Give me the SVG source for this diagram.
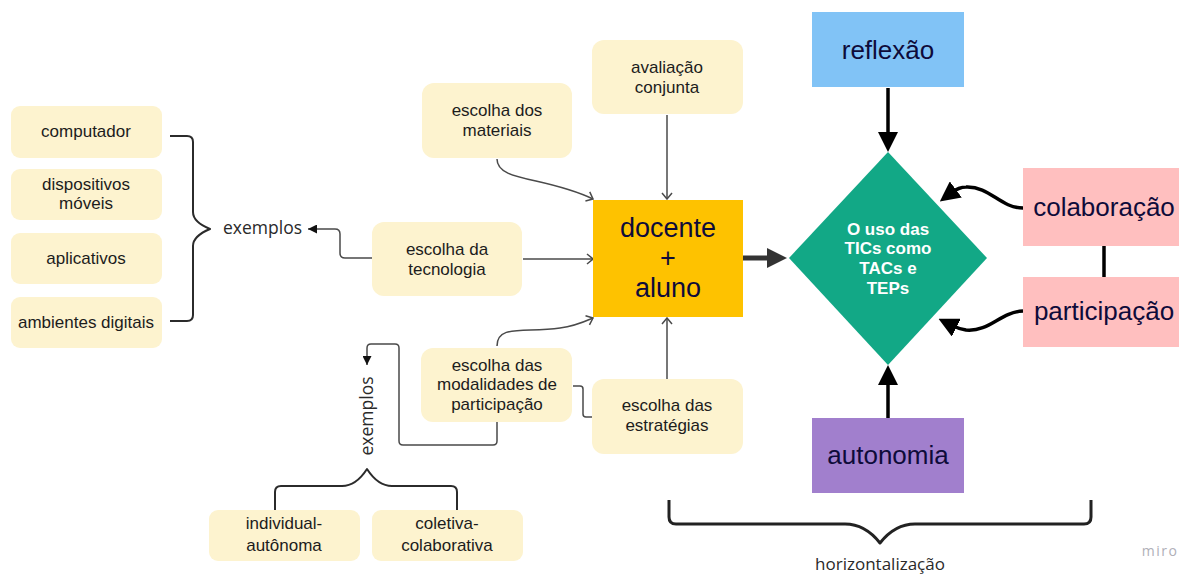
<svg xmlns="http://www.w3.org/2000/svg" width="1179" height="574" viewBox="0 0 1179 574">
  <style>
    .note { fill: #fdf3cf; }
    .nt { font-family: "Liberation Sans", Arial, sans-serif; font-size: 17px; fill: #1c1c1c; text-anchor: middle; }
    .big { font-family: "Liberation Sans", Arial, sans-serif; font-size: 26px; fill: #0e0b3a; text-anchor: middle; }
    .huge { font-size: 27px; }
    .dia { font-family: "Liberation Sans", Arial, sans-serif; font-size: 17px; font-weight: bold; fill: #ffffff; text-anchor: middle; }
    .lbl { font-family: "Open Sans", "Noto Sans", sans-serif; font-size: 17.5px; fill: #2a2a2a; }
    .thin { fill: none; stroke: #4a4a4a; stroke-width: 1.5; }
    .brace { fill: none; stroke: #2b2b2b; stroke-width: 2; stroke-linejoin: round; }
    .heavy { fill: none; stroke: #000; stroke-width: 3.5; }
  </style>
  <defs>
    <marker id="open" viewBox="0 0 8 12" refX="7" refY="6" markerWidth="8" markerHeight="12" markerUnits="userSpaceOnUse" orient="auto">
      <path d="M1,1 L7,6 L1,11" fill="none" stroke="#4a4a4a" stroke-width="1.5"/>
    </marker>
    <marker id="small" viewBox="0 0 9 9" refX="9" refY="4.5" markerWidth="9" markerHeight="9" markerUnits="userSpaceOnUse" orient="auto">
      <path d="M0,0 L9,4.5 L0,9 Z" fill="#111"/>
    </marker>
    <marker id="head" viewBox="0 0 20 20" refX="6" refY="10" markerWidth="20" markerHeight="20" markerUnits="userSpaceOnUse" orient="auto">
      <path d="M0,0 L20,10 L0,20 Z" fill="#000"/>
    </marker>
    <marker id="headGrey" viewBox="0 0 20 20" refX="6" refY="10" markerWidth="20" markerHeight="20" markerUnits="userSpaceOnUse" orient="auto">
      <path d="M0,0 L20,10 L0,20 Z" fill="#333"/>
    </marker>
  </defs>

  <!-- connectors -->
  <g id="connectors">
    <!-- examples brace (left) -->
    <path class="brace" d="M170,136 H187 Q193,136 193,142 V212 Q193,222 210,229 Q193,236 193,246 V315 Q193,321 187,321 H170"/>
    <!-- escolha da tecnologia -> exemplos -->
    <path class="thin" d="M372,258 H345 Q340,258 340,253 V234 Q340,229 335,229 H308" marker-end="url(#small)"/>
    <!-- tecnologia -> docente -->
    <path class="thin" d="M523,259 H593" marker-end="url(#open)"/>
    <!-- materiais -> docente -->
    <path class="thin" d="M497,159 C497,182 545,176 593,199" marker-end="url(#open)"/>
    <!-- avaliação -> docente -->
    <path class="thin" d="M667,115 V199" marker-end="url(#open)"/>
    <!-- modalidades -> docente -->
    <path class="thin" d="M497,346 C497,324 525,333 560,328 C576,326 586,321 593,318" marker-end="url(#open)"/>
    <!-- estratégias -> docente -->
    <path class="thin" d="M667,379 V318" marker-end="url(#open)"/>
    <!-- modalidades - estratégias -->
    <path class="thin" d="M573,386 H580 Q583,386 583,389 V414 Q583,417 586,417 H592"/>
    <!-- modalidades -> exemplos (vertical) -->
    <path class="thin" d="M497,422 V441 Q497,445 493,445 H403 Q399,445 399,441 V348 Q399,344 395,344 H371 Q367,344 367,348 V365" marker-end="url(#small)"/>
    <!-- bottom examples brace -->
    <path class="brace" d="M275,510 V492 Q275,486 281,486 H342 Q356,486 367,469 Q378,486 392,486 H451 Q457,486 457,492 V510"/>
    <!-- docente -> diamond -->
    <path d="M743,258 H773" fill="none" stroke="#333" stroke-width="5" marker-end="url(#headGrey)"/>
    <!-- reflexão -> diamond -->
    <path class="heavy" d="M888,88 V138" marker-end="url(#head)"/>
    <!-- autonomia -> diamond -->
    <path class="heavy" d="M888,418 V379" marker-end="url(#head)"/>
    <!-- colaboração -> diamond -->
    <path class="heavy" d="M1023,208 C1000,208 990,186 966,187 C960,187 955,190 951,193" marker-end="url(#head)"/>
    <!-- participação -> diamond -->
    <path class="heavy" d="M1023,311 C1000,312 990,332 966,330 C960,329 955,327 951,325" marker-end="url(#head)"/>
    <!-- colaboração - participação -->
    <path class="heavy" d="M1104,246 V277"/>
    <!-- horizontalização brace -->
    <path d="M669,500 V517 Q669,524 676,524 H845 Q865,524 880,543 Q895,524 915,524 H1084 Q1091,524 1091,517 V500" fill="none" stroke="#222" stroke-width="3" stroke-linejoin="round"/>
  </g>

  <!-- examples of technologies -->
  <g id="computador">
    <rect class="note" x="11" y="106" width="151" height="52" rx="9"/>
    <text class="nt" x="86" y="137">computador</text>
  </g>
  <g id="dispositivos">
    <rect class="note" x="11" y="169" width="151" height="51" rx="9"/>
    <text class="nt" x="86" y="190">dispositivos</text>
    <text class="nt" x="86" y="209">móveis</text>
  </g>
  <g id="aplicativos">
    <rect class="note" x="11" y="233" width="151" height="51" rx="9"/>
    <text class="nt" x="86" y="264">aplicativos</text>
  </g>
  <g id="ambientes">
    <rect class="note" x="11" y="297" width="151" height="51" rx="9"/>
    <text class="nt" x="86" y="328">ambientes digitais</text>
  </g>
  <g id="exemplos-tec">
    <text class="lbl" x="223" y="234">exemplos</text>
  </g>

  <!-- choices around docente + aluno -->
  <g id="tecnologia">
    <rect class="note" x="372" y="222" width="150" height="74" rx="12"/>
    <text class="nt" x="447" y="255">escolha da</text>
    <text class="nt" x="447" y="275">tecnologia</text>
  </g>
  <g id="materiais">
    <rect class="note" x="422" y="83" width="150" height="75" rx="12"/>
    <text class="nt" x="497" y="116">escolha dos</text>
    <text class="nt" x="497" y="136">materiais</text>
  </g>
  <g id="avaliacao">
    <rect class="note" x="592" y="40" width="151" height="74" rx="12"/>
    <text class="nt" x="667" y="73">avaliação</text>
    <text class="nt" x="667" y="93">conjunta</text>
  </g>
  <g id="modalidades">
    <rect class="note" x="421" y="348" width="151" height="74" rx="12"/>
    <text class="nt" x="497" y="371">escolha das</text>
    <text class="nt" x="497" y="390">modalidades de</text>
    <text class="nt" x="497" y="410">participação</text>
  </g>
  <g id="estrategias">
    <rect class="note" x="592" y="379" width="151" height="75" rx="12"/>
    <text class="nt" x="667" y="411">escolha das</text>
    <text class="nt" x="667" y="431">estratégias</text>
  </g>
  <g id="exemplos-part">
    <text class="lbl" x="0" y="0" text-anchor="middle" transform="translate(373,416) rotate(-90)">exemplos</text>
  </g>
  <g id="individual">
    <rect class="note" x="209" y="510" width="151" height="51" rx="9"/>
    <text class="nt" x="284" y="529">individual-</text>
    <text class="nt" x="284" y="551">autônoma</text>
  </g>
  <g id="coletiva">
    <rect class="note" x="372" y="510" width="151" height="51" rx="9"/>
    <text class="nt" x="447" y="529">coletiva-</text>
    <text class="nt" x="447" y="551">colaborativa</text>
  </g>

  <!-- central node -->
  <g id="docente">
    <rect x="593" y="200" width="150" height="117" fill="#fec200"/>
    <text class="big huge" x="668" y="237">docente</text>
    <text class="big huge" x="668" y="267">+</text>
    <text class="big huge" x="668" y="297">aluno</text>
  </g>

  <!-- TIC diamond and its dimensions -->
  <g id="tics">
    <polygon points="888,152 987,258 888,365 789,258" fill="#12a886"/>
    <text class="dia" x="888" y="235">O uso das</text>
    <text class="dia" x="888" y="254">TICs como</text>
    <text class="dia" x="888" y="274">TACs e</text>
    <text class="dia" x="888" y="294">TEPs</text>
  </g>
  <g id="reflexao">
    <rect x="812" y="12" width="152" height="75" fill="#81c3f6"/>
    <text class="big" x="888" y="59">reflexão</text>
  </g>
  <g id="autonomia">
    <rect x="812" y="418" width="152" height="75" fill="#a17fcd"/>
    <text class="big" x="888" y="464">autonomia</text>
  </g>
  <g id="colaboracao">
    <rect x="1023" y="168" width="156" height="78" fill="#ffbfbf"/>
    <text class="big" x="1104" y="216">colaboração</text>
  </g>
  <g id="participacao">
    <rect x="1023" y="277" width="156" height="70" fill="#ffbfbf"/>
    <text class="big" x="1104" y="320">participação</text>
  </g>
  <g id="horizontalizacao">
    <text class="lbl" x="880" y="570" text-anchor="middle" style="font-size:17px">horizontalização</text>
  </g>
  <text x="1160" y="556" text-anchor="middle" font-family="Open Sans, sans-serif" font-size="14" letter-spacing="1.5" fill="#b0b0b8">miro</text>
</svg>
